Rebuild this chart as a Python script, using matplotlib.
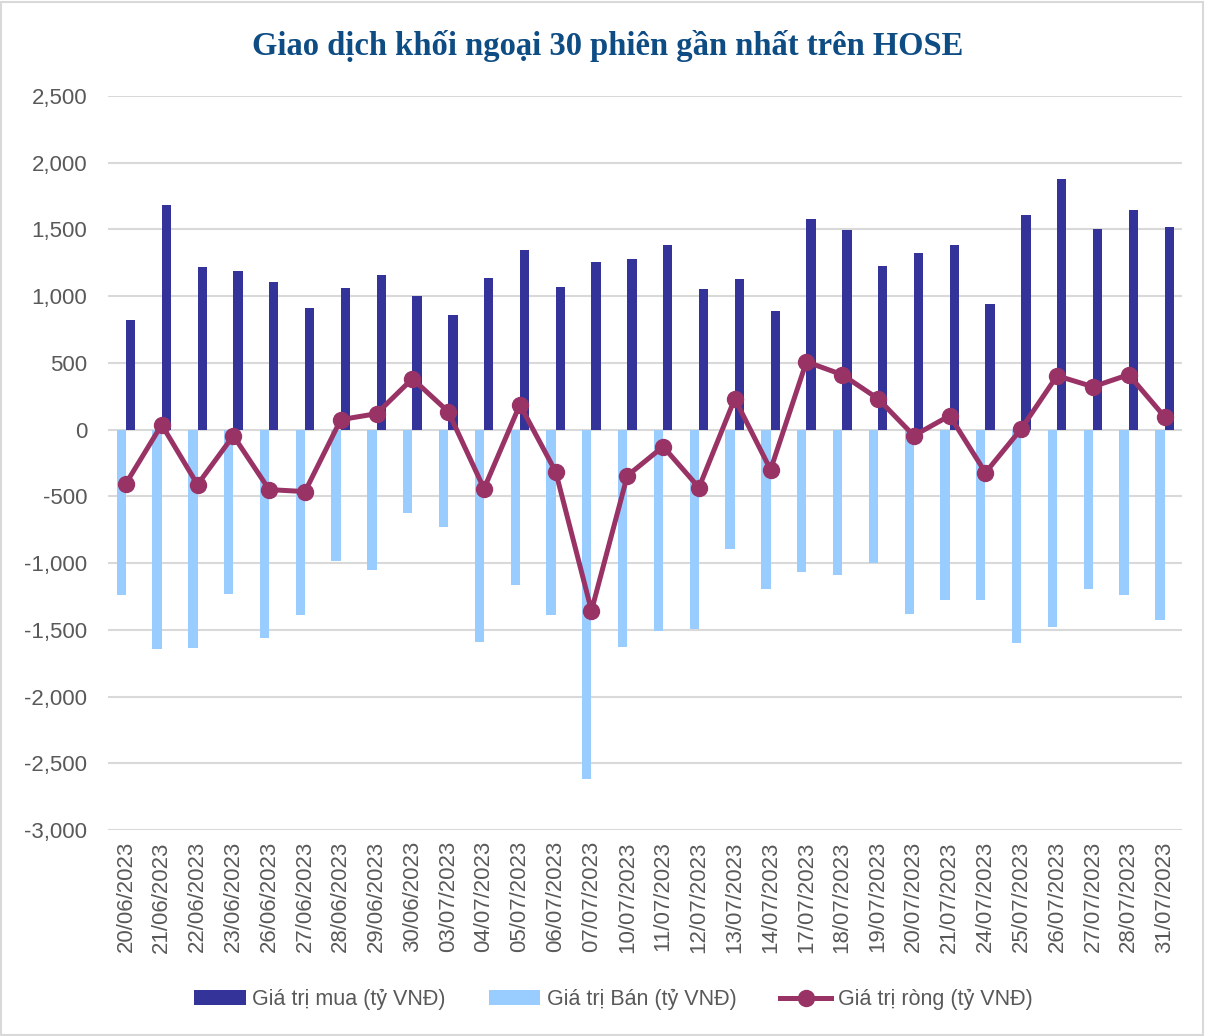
import numpy as np
import matplotlib.pyplot as plt
from matplotlib.patches import Rectangle

# du lieu doc tu hinh
ngay = ['20/06/2023', '21/06/2023', '22/06/2023', '23/06/2023', '26/06/2023', '27/06/2023',
        '28/06/2023', '29/06/2023', '30/06/2023', '03/07/2023', '04/07/2023', '05/07/2023',
        '06/07/2023', '07/07/2023', '10/07/2023', '11/07/2023', '12/07/2023', '13/07/2023',
        '14/07/2023', '17/07/2023', '18/07/2023', '19/07/2023', '20/07/2023', '21/07/2023',
        '24/07/2023', '25/07/2023', '26/07/2023', '27/07/2023', '28/07/2023', '31/07/2023']
mua = [825, 1685, 1220, 1190, 1108, 914, 1063, 1161, 1004, 861, 1138, 1348, 1071, 1258, 1281,
       1385, 1056, 1131, 891, 1580, 1498, 1228, 1326, 1385, 943, 1610, 1880, 1505, 1648, 1520]
ban = [-1236, -1640, -1633, -1228, -1558, -1386, -981, -1049, -622, -727, -1588, -1161, -1386,
       -2614, -1625, -1505, -1491, -891, -1191, -1064, -1086, -996, -1378, -1273, -1273, -1595,
       -1476, -1191, -1236, -1423]
rong = [-404, 37, -412, -45, -449, -464, 75, 120, 382, 135, -442, 187, -315, -1356, -345, -127,
        -434, 232, -300, 509, 412, 232, -45, 105, -322, 7, 404, 322, 412, 97]

plt.rcParams['font.family'] = ['Liberation Sans', 'DejaVu Sans']

fig = plt.figure(figsize=(12.05, 10.36), dpi=100)
ax = fig.add_axes([0.0896, 0.1988, 0.8917, 0.7085])

x = np.arange(len(ngay))
w = 0.26
b1 = ax.bar(x + w/2, mua, width=w, color='#333399', label='Giá trị mua (tỷ VNĐ)', zorder=2)
b2 = ax.bar(x - w/2, ban, width=w, color='#99CCFF', label='Giá trị Bán (tỷ VNĐ)', zorder=2)
l1, = ax.plot(x, rong, color='#993366', linewidth=3.6, marker='o', markersize=11.5,
              label='Giá trị ròng (tỷ VNĐ)', zorder=3)

ax.set_xlim(-0.5, len(ngay) - 0.5)
ax.set_ylim(-3000, 2500)
ax.set_yticks(np.arange(-3000, 2501, 500))
ax.set_yticklabels([f'{v:,}' for v in np.arange(-3000, 2501, 500)])
ax.set_xticks(x)
ax.set_xticklabels(ngay, rotation=90)
ax.tick_params(axis='both', length=0, labelsize=16, colors='#595959')
ax.tick_params(axis='y', pad=15)
ax.tick_params(axis='x', pad=8)
ax.grid(axis='y', color='#D9D9D9', linewidth=1.5, zorder=0)
for s in ax.spines.values():
    s.set_visible(False)

fig.text(0.504, 0.956, 'Giao dịch khối ngoại 30 phiên gần nhất trên HOSE', ha='center', va='center',
         fontsize=23.5, fontweight='bold', color='#0E4C84', family=['Liberation Serif', 'DejaVu Serif'])

leg = fig.legend([b1, b2, l1], [b1.get_label(), b2.get_label(), l1.get_label()],
                 loc='center', bbox_to_anchor=(0.509, 0.035), ncol=3, frameon=False,
                 fontsize=15.5, handlelength=2.4, handleheight=0.7, handletextpad=0.3,
                 columnspacing=2.0)
for t in leg.get_texts():
    t.set_color('#595959')

fig.patches.append(Rectangle((0.001, 0.001), 0.997, 0.997, transform=fig.transFigure,
                             fill=False, edgecolor='#D9D9D9', linewidth=1.5))

plt.savefig('out.png', dpi=100)
